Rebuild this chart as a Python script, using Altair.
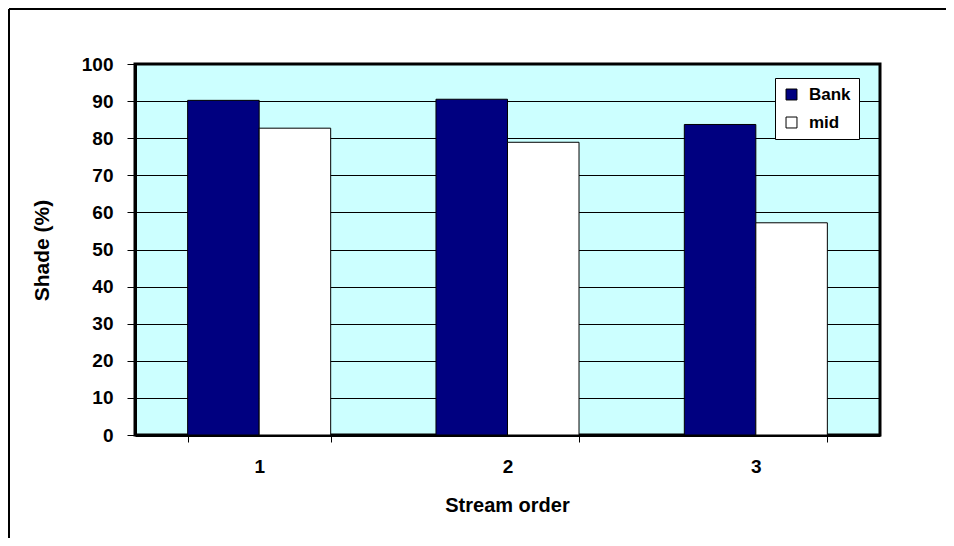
import altair as alt
import pandas as pd

orders = ["1", "2", "3"]
series = ["Bank", "mid"]
bank = [90.2, 90.5, 83.7]
mid = [82.7, 78.9, 57.2]
y_ticks = [0, 10, 20, 30, 40, 50, 60, 70, 80, 90, 100]

rows = []
for i, o in enumerate(orders):
    rows.append({"order": o, "series": "Bank", "shade": bank[i]})
    rows.append({"order": o, "series": "mid", "shade": mid[i]})
df = pd.DataFrame(rows)

FONT = "Liberation Sans"

bars = alt.Chart(df).mark_bar(stroke="black", strokeWidth=1).encode(
    x=alt.X(
        "order:N",
        sort=orders,
        scale=alt.Scale(paddingInner=0.424, paddingOuter=0.212),
        axis=alt.Axis(
            title="Stream order",
            labelAngle=0,
            tickBand="extent",
            tickSize=7,
            tickWidth=1,
            tickColor="black",
            labelPadding=15,
            domainWidth=3,
            domainColor="black",
            titleX=372,
            titleY=70,
            titleBaseline="middle",
            titleAlign="center",
            titleFontSize=20,
        ),
    ),
    xOffset=alt.XOffset("series:N", sort=series),
    y=alt.Y(
        "shade:Q",
        scale=alt.Scale(domain=[0, 100], nice=False),
        axis=alt.Axis(
            title="Shade (%)",
            values=y_ticks,
            tickSize=8,
            tickWidth=1,
            tickColor="black",
            labelPadding=14,
            domainWidth=3,
            domainColor="black",
            grid=True,
            gridColor="black",
            gridWidth=1,
            gridOpacity=1,
            titleX=-93,
            titleY=186,
            titleAngle=-90,
            titleBaseline="middle",
            titleAlign="center",
            titleFontSize=21,
        ),
    ),
    color=alt.Color(
        "series:N",
        sort=series,
        scale=alt.Scale(domain=series, range=["#000080", "#FFFFFF"]),
        legend=alt.Legend(
            title=None,
            orient="none",
            legendX=640,
            legendY=14,
            fillColor="white",
            strokeColor="black",
            padding=8,
            symbolType="square",
            symbolSize=120,
            symbolStrokeColor="black",
            symbolStrokeWidth=1,
            labelFontSize=17,
            labelFont=FONT,
            labelFontWeight="bold",
            labelColor="black",
            rowPadding=10,
            labelOffset=9,
        ),
    ),
)

edge_df = pd.DataFrame({"k": [1]})
top_edge = alt.Chart(edge_df).mark_rule(
    stroke="black", strokeWidth=2, clip=False
).encode(
    x=alt.value(-126),
    x2=alt.value(811),
    y=alt.value(-55),
    y2=alt.value(-55),
)
left_edge = alt.Chart(edge_df).mark_rule(
    stroke="black", strokeWidth=2, clip=False
).encode(
    x=alt.value(-126),
    x2=alt.value(-126),
    y=alt.value(-55),
    y2=alt.value(474),
)

chart = alt.layer(bars, top_edge, left_edge).properties(
    width=745,
    height=371,
    padding={"left": 127, "top": 56, "right": 66, "bottom": 103},
    autosize=alt.AutoSizeParams(type="none"),
    background="white",
).configure_view(
    fill="#CCFFFF", stroke="black", strokeWidth=3
).configure_axis(
    labelFont=FONT,
    labelFontSize=19,
    labelFontWeight="bold",
    labelColor="black",
    titleFont=FONT,
    titleFontWeight="bold",
    titleColor="black",
)

chart.save("out.html", embed_options={"renderer": "svg", "actions": False})
